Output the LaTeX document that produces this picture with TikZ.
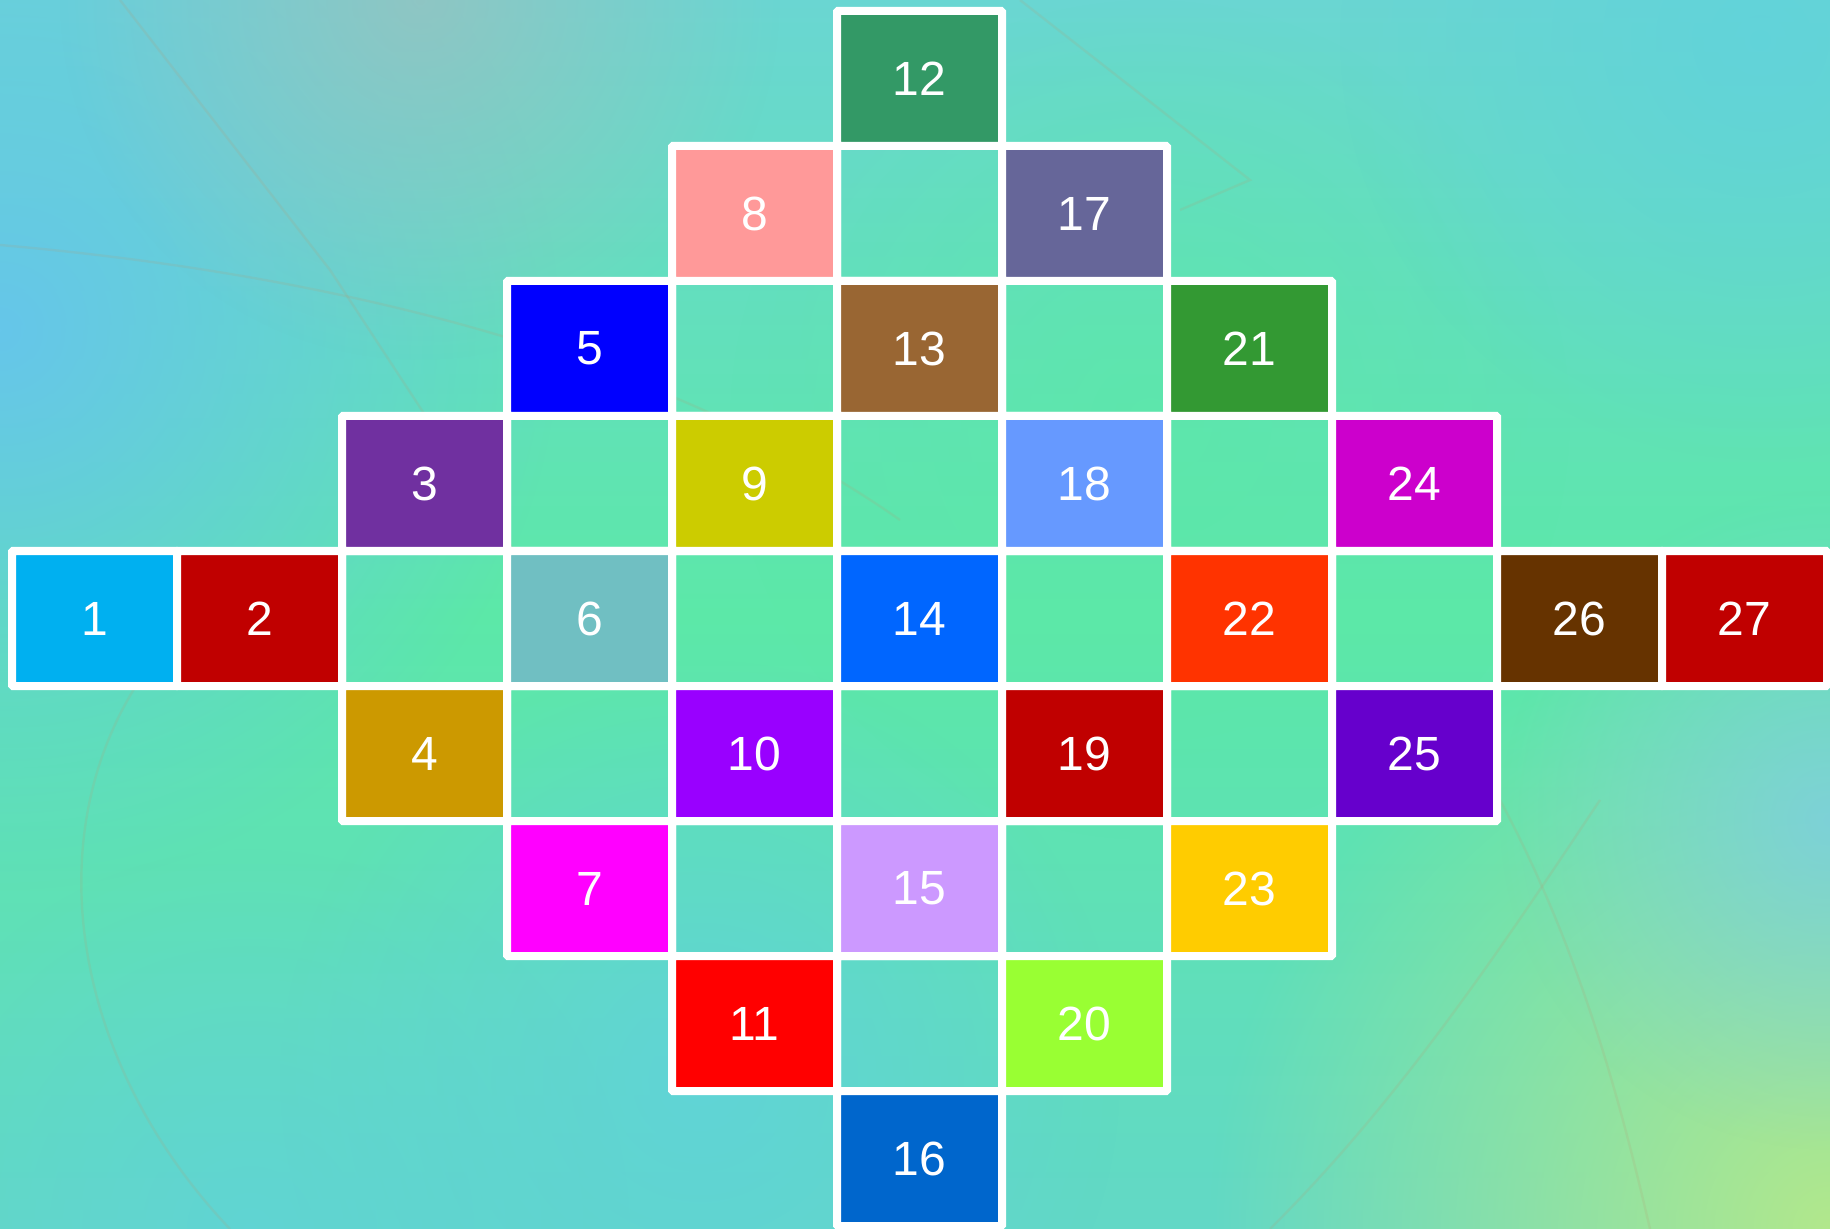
\documentclass[tikz,border=0pt]{standalone}
\usepackage{fontspec}
\setmainfont{Liberation Sans}
\usetikzlibrary{shadows,fadings}

\definecolor{bgtop}{HTML}{6AD6D2}
\definecolor{bgmid}{HTML}{5CE8A8}
\definecolor{bgbot}{HTML}{62D8C6}
\definecolor{bgblue}{HTML}{66C6EA}
\definecolor{bggray}{HTML}{98C2C0}
\definecolor{bgcyan}{HTML}{60D2DC}
\definecolor{bglime}{HTML}{B2E88C}
\definecolor{bgsky}{HTML}{7ECDE4}
\definecolor{streak}{HTML}{B89A70}

\definecolor{k1}{HTML}{00B0F0}
\definecolor{k2}{HTML}{C00000}
\definecolor{k3}{HTML}{7030A0}
\definecolor{k4}{HTML}{CC9900}
\definecolor{k5}{HTML}{0000FF}
\definecolor{k6}{HTML}{70BFC2}
\definecolor{k7}{HTML}{FF00FF}
\definecolor{k8}{HTML}{FF9999}
\definecolor{k9}{HTML}{CCCC00}
\definecolor{k10}{HTML}{9900FF}
\definecolor{k11}{HTML}{FF0000}
\definecolor{k12}{HTML}{339966}
\definecolor{k13}{HTML}{996633}
\definecolor{k14}{HTML}{0066FF}
\definecolor{k15}{HTML}{CC99FF}
\definecolor{k16}{HTML}{0066CC}
\definecolor{k17}{HTML}{666699}
\definecolor{k18}{HTML}{6699FF}
\definecolor{k19}{HTML}{C00000}
\definecolor{k20}{HTML}{99FF33}
\definecolor{k21}{HTML}{339933}
\definecolor{k22}{HTML}{FF3300}
\definecolor{k23}{HTML}{FFCC00}
\definecolor{k24}{HTML}{CC00CC}
\definecolor{k25}{HTML}{6600CC}
\definecolor{k26}{HTML}{663300}
\definecolor{k27}{HTML}{C00000}

\tikzfading[name=blob, inner color=transparent!0, outer color=transparent!100]

\tikzset{
  frame/.style={draw=white, line width=4pt, rounded corners=0.5pt,
    minimum width=82.5pt, minimum height=67.5pt, inner sep=0pt},
  cell/.style={frame, text=white, font=\fontsize{24}{29}\selectfont,
    drop shadow={opacity=0.22, shadow xshift=0.8pt, shadow yshift=-0.8pt}},
  glow/.style={path fading=blob},
  trace/.style={draw=streak, opacity=0.16, line width=1.2pt}
}

\begin{document}
\begin{tikzpicture}[x=0.5pt, y=-0.5pt]
\useasboundingbox (0,0) rectangle (1830,1229);

\begin{scope}
\clip (0,0) rectangle (1830,1229);
\shade[top color=bgtop, bottom color=bgmid] (0,0) rectangle (1830,615);
\shade[top color=bgmid, bottom color=bgbot] (0,614) rectangle (1830,1229);
\fill[bgmid, glow, opacity=0.7] (1150,420) circle (420);
\fill[bgblue, glow] (0,330) circle (560);
\fill[bggray, glow, opacity=0.8] (420,0) circle (360);
\fill[bgcyan, glow, opacity=0.8] (1760,40) circle (420);
\fill[bgcyan, glow, opacity=0.8] (700,1080) circle (420);
\fill[bgcyan, glow, opacity=0.6] (250,1229) circle (380);
\fill[bglime, glow] (1830,1229) circle (620);
\fill[bgsky, glow, opacity=0.8] (1830,820) circle (330);
\draw[trace] (120,0) -- (330,270) -- (520,560);
\draw[trace] (0,245) .. controls (400,280) and (700,380) .. (900,520);
\draw[trace] (170,640) .. controls (30,800) and (60,1050) .. (230,1229);
\draw[trace] (1020,0) -- (1250,180) -- (1180,210);
\draw[trace] (1500,800) .. controls (1580,950) and (1620,1100) .. (1650,1229);
\draw[trace] (1600,800) .. controls (1500,950) and (1400,1100) .. (1270,1229);
\end{scope}

\foreach \c/\r in {5/1,4/2,6/2,3/3,5/3,7/3,2/4,4/4,6/4,8/4,3/5,5/5,7/5,4/6,6/6,5/7}
  \node[frame] (e\c-\r) at (94.5+165*\c, 78.5+135*\r) {};

\foreach \c/\r/\n in {0/4/1,1/4/2,2/3/3,2/5/4,3/2/5,3/4/6,3/6/7,4/1/8,4/3/9,
  4/5/10,4/7/11,5/0/12,5/2/13,5/4/14,5/6/15,5/8/16,6/1/17,6/3/18,6/5/19,
  6/7/20,7/2/21,7/4/22,7/6/23,8/3/24,8/5/25,9/4/26,10/4/27}
  \node[cell, fill=k\n] (n\n) at (94.5+165*\c, 78.5+135*\r) {\n};
\end{tikzpicture}
\end{document}
